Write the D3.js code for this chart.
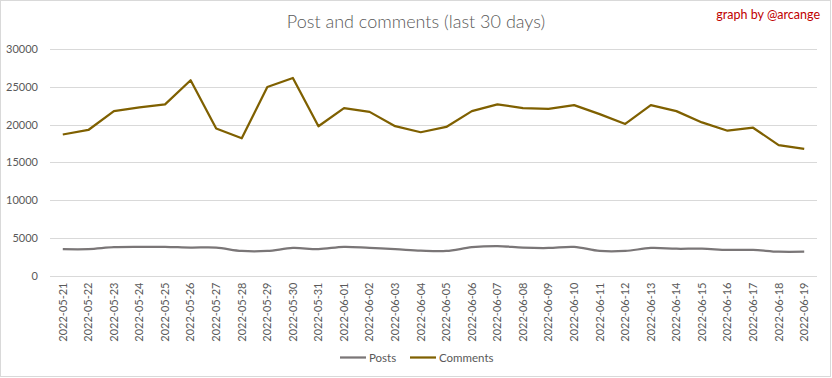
<!DOCTYPE html>
<html><head><meta charset="utf-8">
<script src="https://cdn.jsdelivr.net/npm/d3@7"></script>
<style>
html,body{margin:0;padding:0;background:#fff;}
svg{display:block;}
text{font-family:Lato,"Open Sans",sans-serif;}
</style></head><body>
<svg id="c" width="832" height="378"></svg>
<script>
const dates = ["2022-05-21","2022-05-22","2022-05-23","2022-05-24","2022-05-25","2022-05-26","2022-05-27","2022-05-28","2022-05-29","2022-05-30","2022-05-31","2022-06-01","2022-06-02","2022-06-03","2022-06-04","2022-06-05","2022-06-06","2022-06-07","2022-06-08","2022-06-09","2022-06-10","2022-06-11","2022-06-12","2022-06-13","2022-06-14","2022-06-15","2022-06-16","2022-06-17","2022-06-18","2022-06-19"];
const posts = [3500,3500,3750,3800,3800,3700,3700,3250,3250,3650,3500,3800,3650,3500,3300,3250,3750,3900,3700,3650,3800,3250,3250,3650,3550,3550,3400,3400,3150,3150];
const comments = [18700,19300,21800,22300,22700,25900,19500,18200,25000,26200,19800,22200,21700,19800,19000,19700,21800,22700,22200,22100,22600,21400,20100,22600,21800,20300,19200,19600,17300,16800];
const yTicks = [0,5000,10000,15000,20000,25000,30000];
const title = "Post and comments (last 30 days)";
const credit = "graph by @arcange";
const seriesNames = ["Posts","Comments"];
const colors = ["#7a7677","#7f6000"];

const svg = d3.select("#c");
svg.append("rect").attr("x",0.5).attr("y",0.5).attr("width",830).attr("height",376)
  .attr("fill","#fff").attr("stroke","#d9d9d9");

const m = {l:50, r:15, t:49.3, b:102.5};
const W = 832, H = 378;
const x = d3.scaleBand().domain(dates).range([m.l, W - m.r]);
const y = d3.scaleLinear().domain([0,30000]).range([H - m.b, m.t]);

svg.append("g").selectAll("line").data(yTicks).join("line")
  .attr("x1", m.l).attr("x2", W - m.r)
  .attr("y1", d => Math.round(y(d)) + 0.5).attr("y2", d => Math.round(y(d)) + 0.5)
  .attr("stroke", "#d9d9d9").attr("stroke-width", 1);

const ya = svg.append("g").attr("transform", `translate(${m.l - 12},0)`)
  .call(d3.axisLeft(y).tickValues(yTicks).tickSize(0).tickPadding(0).tickFormat(d3.format("d")));
ya.select(".domain").remove();
ya.selectAll("text").attr("fill","#595959").style("font-size","11px");

const xa = svg.append("g").attr("transform", `translate(0,${y(0)})`)
  .call(d3.axisBottom(x).tickSize(0).tickPadding(0));
xa.select(".domain").remove();
xa.selectAll("text").attr("fill","#595959").style("font-size","11px")
  .attr("text-anchor","end").attr("dy","0.35em")
  .attr("transform","translate(0,7) rotate(-90)");

const cx = d => x(d) + x.bandwidth()/2;
const linePosts = d3.line().x((d,i) => cx(dates[i])).y(d => y(d)).curve(d3.curveCatmullRom.alpha(0.5));
const lineComments = d3.line().x((d,i) => cx(dates[i])).y(d => y(d));

svg.append("path").datum(posts).attr("d", linePosts).attr("fill","none")
  .attr("stroke", colors[0]).attr("stroke-width", 2.25).attr("stroke-linejoin","round");
svg.append("path").datum(comments).attr("d", lineComments).attr("fill","none")
  .attr("stroke", colors[1]).attr("stroke-width", 2.25).attr("stroke-linejoin","round");

svg.append("text").attr("x", 416).attr("y", 28).attr("text-anchor","middle")
  .attr("fill","#595959").style("font-size","18px").style("font-weight","300").text(title);
svg.append("text").attr("x", 820).attr("y", 19).attr("text-anchor","end")
  .attr("fill","#c00000").style("font-size","12.5px").text(credit);

const legend = svg.append("g");
const lx = [340, 410];
seriesNames.forEach((n, i) => {
  legend.append("line").attr("x1", lx[i]).attr("x2", lx[i] + 26).attr("y1", 357.5).attr("y2", 357.5)
    .attr("stroke", colors[i]).attr("stroke-width", 2.25);
  legend.append("text").attr("x", lx[i] + 29).attr("y", 361.5).attr("fill","#595959")
    .style("font-size","11.5px").text(n);
});
</script>
</body></html>
